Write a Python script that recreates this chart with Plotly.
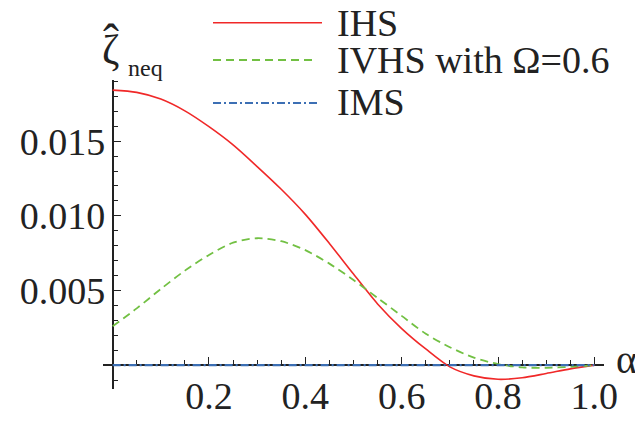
import plotly.graph_objects as go

# ---- data ----
alpha = [0.0, 0.05, 0.1, 0.15, 0.2, 0.25, 0.3, 0.35, 0.4, 0.45, 0.5,
         0.55, 0.6, 0.65, 0.7, 0.75, 0.8, 0.85, 0.9, 0.95, 1.0]
ihs_zeta = [0.01842, 0.01827, 0.01782, 0.01703, 0.01597, 0.01475, 0.01330, 0.01178,
            0.01010, 0.00815, 0.00610, 0.00410, 0.00245, 0.00108, -0.00012, -0.00072,
            -0.00095, -0.00085, -0.00056, -0.00025, 0.0]
ivhs_zeta = [0.0026, 0.0038, 0.0051, 0.00633, 0.00738, 0.0082, 0.0085, 0.0083,
             0.0077, 0.0068, 0.0057, 0.0045, 0.0033, 0.0021, 0.0012, 0.0005,
             0.00007, -0.00015, -0.00018, -0.00012, 0.0]
ims_zeta = [0.0] * len(alpha)

x_ticks = [0.2, 0.4, 0.6, 0.8, 1.0]
x_ticktext = ["0.2", "0.4", "0.6", "0.8", "1.0"]
x_minor = [0.05, 0.1, 0.15, 0.25, 0.3, 0.35, 0.45, 0.5, 0.55, 0.65, 0.7, 0.75, 0.85, 0.9, 0.95]
y_ticks = [0.005, 0.010, 0.015]
y_ticktext = ["0.005", "0.010", "0.015"]
y_minor = [-0.001, 0.001, 0.002, 0.003, 0.004, 0.006, 0.007, 0.008, 0.009,
           0.011, 0.012, 0.013, 0.014, 0.016, 0.017, 0.018, 0.019]

legend_names = ["IHS", "IVHS with Ω=0.6", "IMS"]

FONT = "Liberation Serif"
OFF = 8  # page body margin offset
W, H = 643 - OFF, 423 - OFF
ML, MR, MT, MB = 103 - OFF, 39, 80 - OFF, 34
XR = [-0.02, 1.02]
YR = [-0.0016, 0.0191]
PW, PH = W - ML - MR, H - MT - MB


def px(x):
    return (x - OFF - ML) / PW


def py(y):
    return 1 - (y - OFF - MT) / PH


red, green, blue = "#f02828", "#72c043", "#3c6fb4"

fig = go.Figure()
fig.add_trace(go.Scatter(x=alpha, y=ihs_zeta, mode="lines",
                         line=dict(color=red, width=1.6, shape="spline", smoothing=0.8),
                         name=legend_names[0], showlegend=False))
fig.add_trace(go.Scatter(x=alpha, y=ivhs_zeta, mode="lines",
                         line=dict(color=green, width=1.8, dash="8px,5px", shape="spline", smoothing=0.8),
                         name=legend_names[1], showlegend=False))
fig.add_trace(go.Scatter(x=alpha, y=ims_zeta, mode="lines",
                         line=dict(color=blue, width=2.2, dash="8px,3px,2px,3px"),
                         name=legend_names[2], showlegend=False))

x0pos = (0 - XR[0]) / (XR[1] - XR[0])
y0pos = (0 - YR[0]) / (YR[1] - YR[0])

fig.update_layout(
    width=W, height=H,
    margin=dict(l=ML, r=MR, t=MT, b=MB, autoexpand=False),
    paper_bgcolor="white", plot_bgcolor="white",
    font=dict(family=FONT, size=38, color="#222"),
    xaxis=dict(range=XR, anchor="free", position=y0pos, showgrid=False, zeroline=False,
               automargin=False,
               showline=True, linecolor="#222", linewidth=1.5, layer="below traces",
               tickvals=x_ticks, ticktext=x_ticktext, ticks="inside", ticklen=7, tickwidth=1.3,
               tickcolor="#222", ticklabelstandoff=-2,
               minor=dict(tickvals=x_minor, ticks="inside", ticklen=4, tickwidth=1.1, tickcolor="#222")),
    yaxis=dict(range=YR, anchor="free", position=x0pos, showgrid=False, zeroline=False,
               automargin=False,
               showline=True, linecolor="#222", linewidth=1.8, layer="below traces",
               tickvals=y_ticks, ticktext=y_ticktext, ticks="inside", ticklen=7, tickwidth=1.3,
               tickcolor="#222", ticklabelstandoff=-1,
               minor=dict(tickvals=y_minor, ticks="inside", ticklen=4, tickwidth=1.1, tickcolor="#222")),
    showlegend=False,
)

# legend drawn manually
leg_rows = [(22.7, 322, red, None, 1.6), (60, 316, green, "8px,5px", 1.8), (103, 318, blue, "8px,3px,2px,3px", 2.2)]
leg_text_y = [23, 60, 102.5]
shapes = []
annotations = []
for (yy, xend, col, dash, w), name, ty in zip(leg_rows, legend_names, leg_text_y):
    ln = dict(color=col, width=w)
    if dash:
        ln["dash"] = dash
    shapes.append(dict(type="line", xref="paper", yref="paper", x0=px(213), x1=px(xend),
                       y0=py(yy), y1=py(yy), line=ln))
    annotations.append(dict(text=name, xref="paper", yref="paper", x=px(335), y=py(ty),
                            xanchor="left", yanchor="middle", showarrow=False,
                            font=dict(family=FONT, size=38, color="#222")))

# axis titles
annotations.append(dict(text="ζ", xref="paper", yref="paper", x=px(110), y=py(50), xanchor="center",
                        yanchor="middle", showarrow=False, font=dict(family=FONT, size=42, color="#222")))
annotations.append(dict(text="ˆ", xref="paper", yref="paper", x=px(111), y=py(41), xanchor="center",
                        yanchor="middle", showarrow=False, font=dict(family=FONT, size=48, color="#222")))
annotations.append(dict(text="neq", xref="paper", yref="paper", x=px(126), y=py(68), xanchor="left",
                        yanchor="middle", showarrow=False, font=dict(family=FONT, size=24, color="#222")))
annotations.append(dict(text="α", xref="paper", yref="paper", x=px(626), y=py(359.5), xanchor="center",
                        yanchor="middle", showarrow=False, font=dict(family=FONT, size=40, color="#222")))

fig.update_layout(shapes=shapes, annotations=annotations)
fig.write_html("out.html")
